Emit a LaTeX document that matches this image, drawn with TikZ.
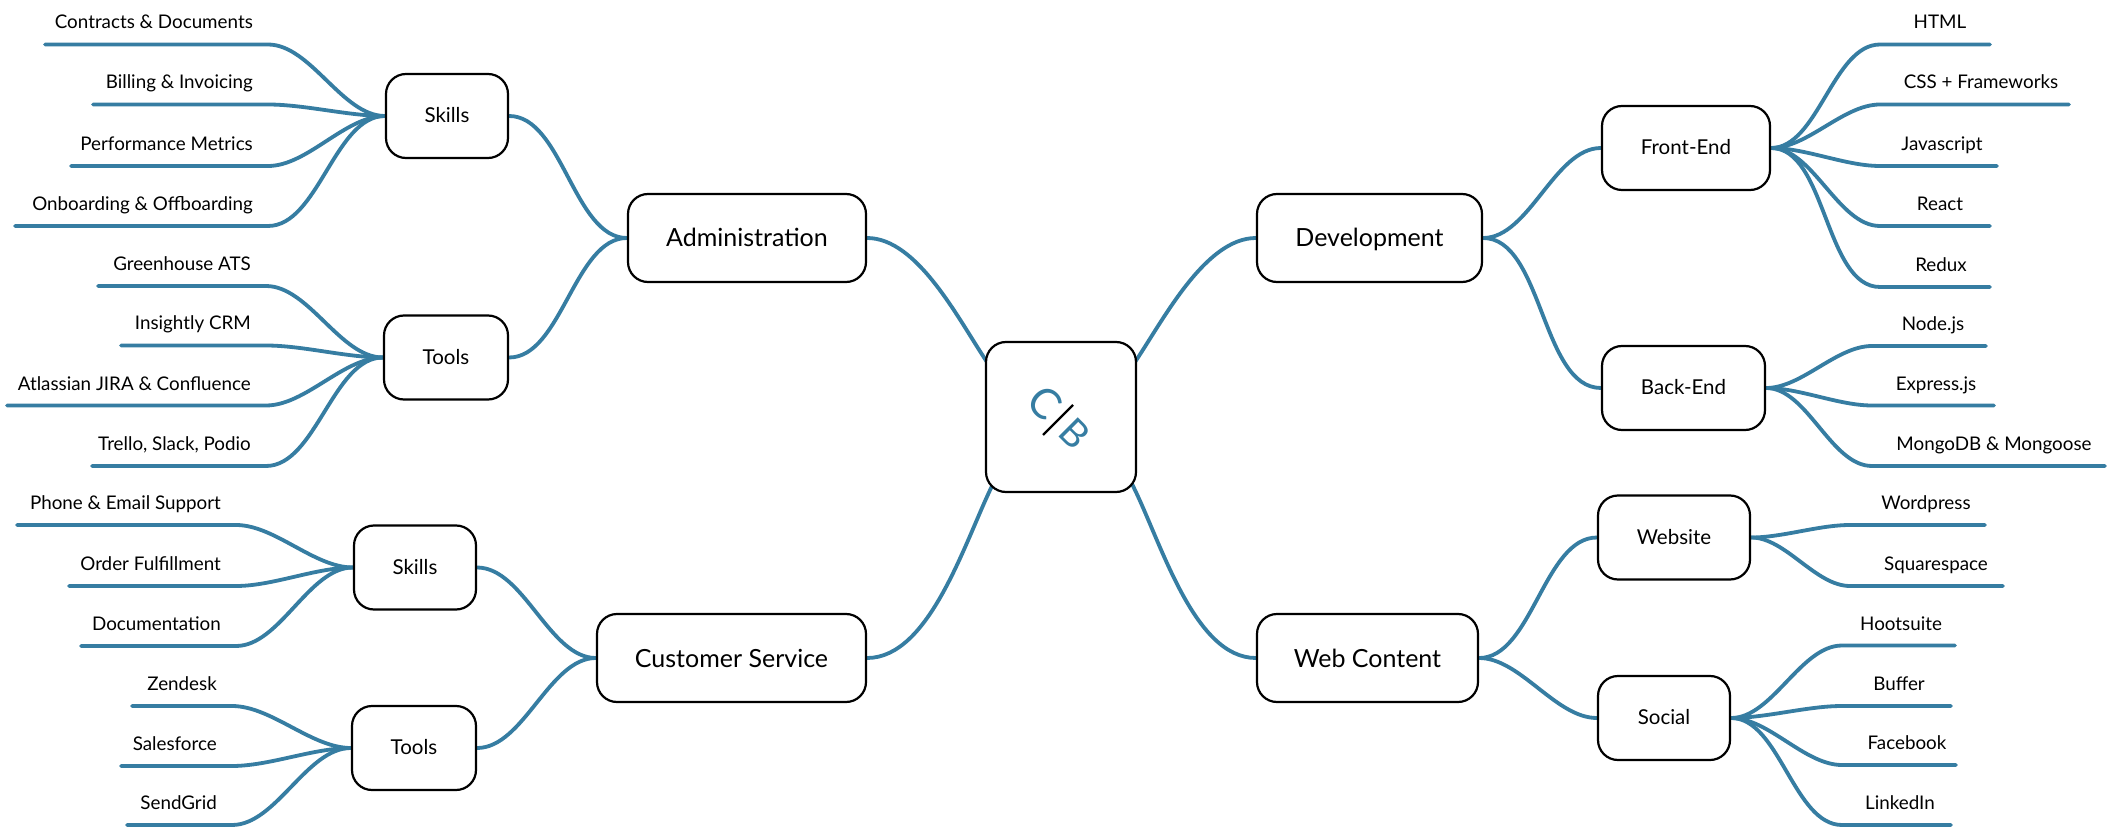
\documentclass[tikz,border=0pt]{standalone}
\usepackage{fontspec}
\setmainfont{Lato}
\usetikzlibrary{backgrounds}
\definecolor{mapblue}{HTML}{367DA2}
\tikzset{
  box/.style={draw=black,line width=2.2pt,fill=white,rounded corners=20pt,inner sep=0pt,align=center,text=black},
  bigbox/.style={box,text height=18pt,text depth=0pt,font=\fontsize{25}{30}\selectfont},
  midbox/.style={box,text height=14pt,text depth=1pt,font=\fontsize{20.5}{25}\selectfont},
  leaftext/.style={font=\fontsize{18.8}{22}\selectfont,text=black,inner sep=0pt},
  conn/.style={draw=mapblue,line width=3.8pt,line cap=round},
  sig/.style={out=#1,in=180-#1,looseness=0.8},
}
% name, parent point, side angle, bend x, end x, y, text x, text anchor, text
\newcommand{\leafline}[9]{%
  \coordinate (#1b) at (#4,#6);
  \coordinate (#1e) at (#5,#6);
  \node[leaftext,anchor=#8] (#1t) at (#7,#6-15.5) {#9};
  \begin{pgfonlayer}{background}
    \path[conn] (#2) to[sig=#3] (#1b) -- (#1e);
  \end{pgfonlayer}}
\begin{document}
\begin{tikzpicture}[x=1pt,y=-1pt]
\useasboundingbox (0,0) rectangle (2112,834);
\begin{scope}[on background layer]
\fill[white] (0,0) rectangle (2112,834);
\end{scope}
% centre
\node[box,minimum width=150pt,minimum height=150pt] (c) at (1061,417) {};
\node[inner sep=0pt,rotate=-45,text=mapblue] (logo) at (1060,417) {\fontsize{42}{42}\selectfont C\hspace{17pt}\fontsize{38}{42}\selectfont B};
\coordinate (sa) at (1043,435);
\coordinate (sb) at (1073,405);
\draw[black,line width=2.4pt] (sa) -- (sb);
\coordinate (cnw) at (987,362);
\coordinate (cne) at (1135,362);
\coordinate (csw) at (992,486);
\coordinate (cse) at (1132,484);
% main
\node[bigbox,minimum width=238pt,minimum height=88pt] (adm) at (747,238) {Administration};
\node[bigbox,minimum width=225pt,minimum height=88pt] (dev) at (1369.5,238) {Development};
\node[bigbox,minimum width=269pt,minimum height=88pt] (cus) at (731.5,658) {Customer Service};
\node[bigbox,minimum width=221pt,minimum height=88pt] (web) at (1367.5,658) {Web Content};
% mid
\node[midbox,minimum width=122pt,minimum height=84pt] (as) at (447,116) {Skills};
\node[midbox,minimum width=124pt,minimum height=84pt] (at) at (446,357.5) {Tools};
\node[midbox,minimum width=122pt,minimum height=84pt] (cs) at (415,567.5) {Skills};
\node[midbox,minimum width=124pt,minimum height=84pt] (ct) at (414,748) {Tools};
\node[midbox,minimum width=168pt,minimum height=84pt] (fe) at (1686,148) {Front-End};
\node[midbox,minimum width=163pt,minimum height=84pt] (be) at (1683.5,388) {Back-End};
\node[midbox,minimum width=152pt,minimum height=84pt] (ws) at (1674,537.5) {Website};
\node[midbox,minimum width=132pt,minimum height=84pt] (so) at (1664,718) {Social};
\begin{scope}[on background layer]
\path[conn] (adm.east) to[out=0,in=124,looseness=0.75] (cnw);
\path[conn] (dev.west) to[out=180,in=56,looseness=0.75] (cne);
\path[conn] (cus.east) to[out=0,in=244,looseness=0.75] (csw);
\path[conn] (web.west) to[out=180,in=297,looseness=0.75] (cse);
\path[conn] (adm.west) to[sig=180] (as.east);
\path[conn] (adm.west) to[sig=180] (at.east);
\path[conn] (cus.west) to[sig=180] (cs.east);
\path[conn] (cus.west) to[sig=180] (ct.east);
\path[conn] (dev.east) to[sig=0] (fe.west);
\path[conn] (dev.east) to[sig=0] (be.west);
\path[conn] (web.east) to[sig=0] (ws.west);
\path[conn] (web.east) to[sig=0] (so.west);
\end{scope}
% Administration skills
\leafline{a1}{as.west}{180}{268}{45}{44.5}{253}{base east}{Contracts \& Documents}
\leafline{a2}{as.west}{180}{268}{93}{104.5}{253}{base east}{Billing \& Invoicing}
\leafline{a3}{as.west}{180}{268}{71}{166}{253}{base east}{Performance Metrics}
\leafline{a4}{as.west}{180}{268}{15}{226}{253}{base east}{Onboarding \& Offboarding}
% Administration tools
\leafline{a5}{at.west}{180}{266}{98}{286}{251}{base east}{Greenhouse ATS}
\leafline{a6}{at.west}{180}{266}{121}{345.5}{251}{base east}{Insightly CRM}
\leafline{a7}{at.west}{180}{266}{7}{405.5}{251}{base east}{Atlassian JIRA \& Confluence}
\leafline{a8}{at.west}{180}{266}{92}{466}{251}{base east}{Trello, Slack, Podio}
% Customer skills
\leafline{c1}{cs.west}{180}{236}{17}{525}{221}{base east}{Phone \& Email Support}
\leafline{c2}{cs.west}{180}{236}{69}{586}{221}{base east}{Order Fulfillment}
\leafline{c3}{cs.west}{180}{236}{81}{646}{221}{base east}{Documentation}
% Customer tools
\leafline{c4}{ct.west}{180}{232}{132}{706}{217}{base east}{Zendesk}
\leafline{c5}{ct.west}{180}{232}{121}{766}{217}{base east}{Salesforce}
\leafline{c6}{ct.west}{180}{232}{127}{825}{217}{base east}{SendGrid}
% Front-End
\leafline{f1}{fe.east}{0}{1880}{1990}{44.5}{1940}{base}{HTML}
\leafline{f2}{fe.east}{0}{1880}{2069}{104.5}{1981}{base}{CSS + Frameworks}
\leafline{f3}{fe.east}{0}{1880}{1997}{166}{1942}{base}{Javascript}
\leafline{f4}{fe.east}{0}{1880}{1990}{226}{1940}{base}{React}
\leafline{f5}{fe.east}{0}{1880}{1990}{287}{1941}{base}{Redux}
% Back-End
\leafline{b1}{be.east}{0}{1872}{1986}{346}{1933}{base}{Node.js}
\leafline{b2}{be.east}{0}{1872}{1994}{405.5}{1936}{base}{Express.js}
\leafline{b3}{be.east}{0}{1872}{2105}{466}{1994}{base}{MongoDB \& Mongoose}
% Website
\leafline{w1}{ws.east}{0}{1850}{1985}{525}{1926}{base}{Wordpress}
\leafline{w2}{ws.east}{0}{1850}{2003}{586}{1936}{base}{Squarespace}
% Social
\leafline{s1}{so.east}{0}{1842}{1955}{645.5}{1901}{base}{Hootsuite}
\leafline{s2}{so.east}{0}{1842}{1951}{706}{1899}{base}{Buffer}
\leafline{s3}{so.east}{0}{1842}{1956}{765}{1907}{base}{Facebook}
\leafline{s4}{so.east}{0}{1842}{1951}{825}{1900}{base}{LinkedIn}
\end{tikzpicture}
\end{document}
